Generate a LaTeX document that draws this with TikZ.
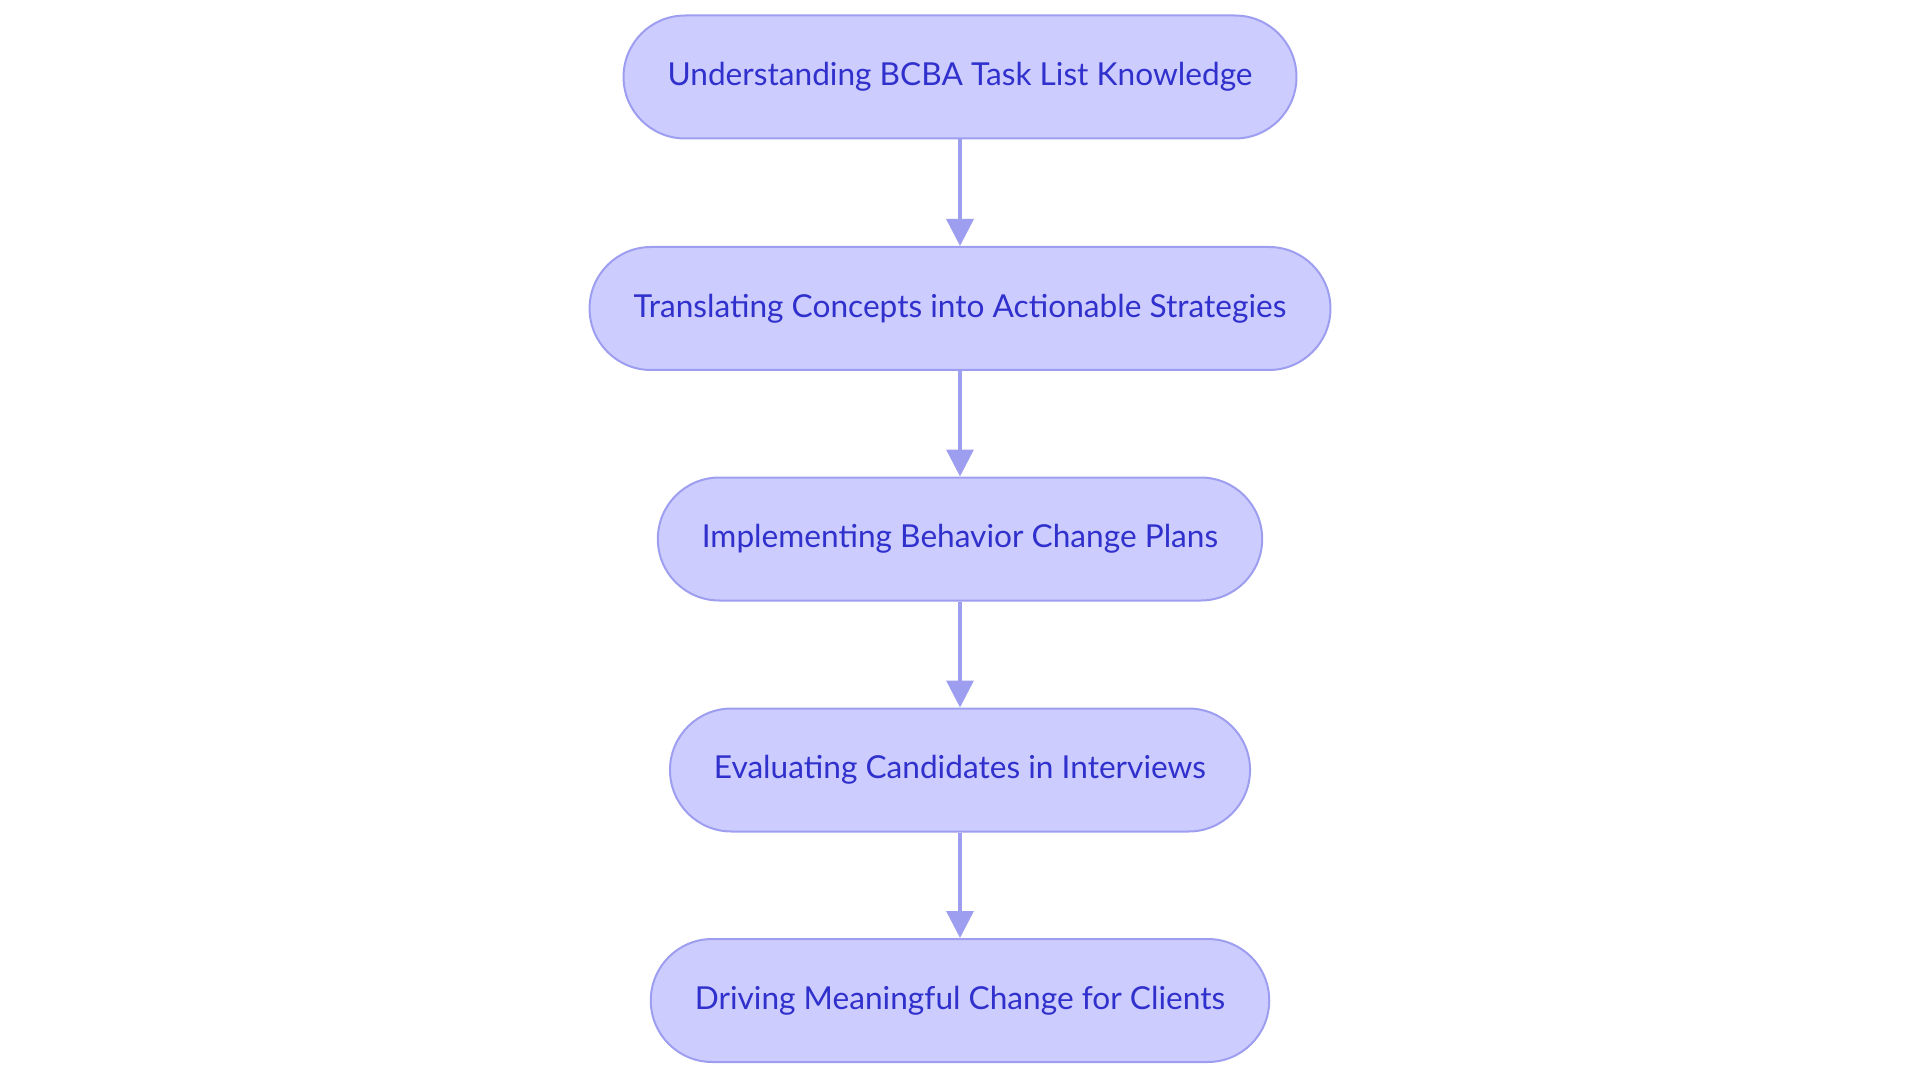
\documentclass[tikz,border=0pt]{standalone}
\usepackage{fontspec}
\setmainfont{Lato}
\usetikzlibrary{arrows.meta}

\definecolor{stepfill}{HTML}{CCCCFF}
\definecolor{stepline}{HTML}{9E9EF0}
\definecolor{steptext}{HTML}{3030CC}

\begin{document}
\begin{tikzpicture}[
    >={Triangle[length=2.7mm, width=2.7mm]},
    line/.style   = {stepline, line width=0.35mm},
    stage/.style  = {draw=stepline, line width=0.2mm, fill=stepfill,
                     text=steptext, font=\fontsize{9pt}{10.5pt}\selectfont,
                     minimum height=12.3mm, inner xsep=4.4mm,
                     rounded corners=6.15mm}
]
\useasboundingbox (0, 0) rectangle (19.2, -10.83);

% Five stages of the flow, top to bottom
\foreach \i/\lab/\y in {1/Understanding BCBA Task List Knowledge/-0.77,
                         2/Translating Concepts into Actionable Strategies/-3.085,
                         3/Implementing Behavior Change Plans/-5.39,
                         4/Evaluating Candidates in Interviews/-7.70,
                         5/Driving Meaningful Change for Clients/-10.005}
    \node[stage] (S\i) at (9.6, \y) {\lab};

% Connectors between consecutive stages
\foreach \a/\b in {1/2, 2/3, 3/4, 4/5}
    \draw[->, line] (S\a.south) -- (S\b.north);

\end{tikzpicture}
\end{document}
